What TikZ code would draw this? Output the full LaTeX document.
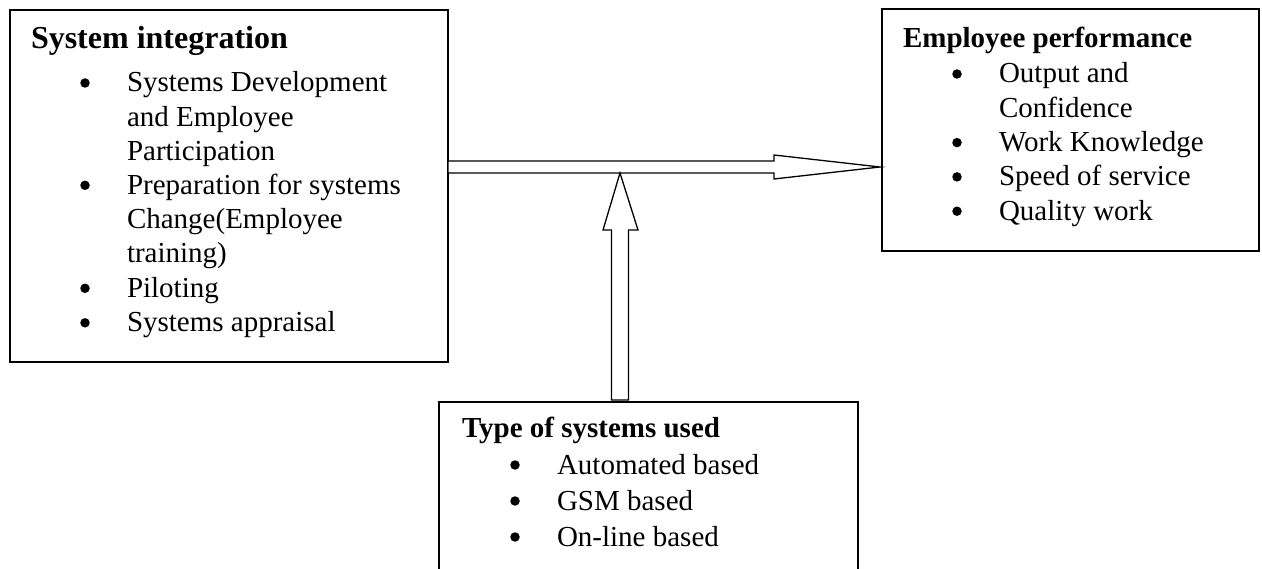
\documentclass[tikz,border=0pt]{standalone}
\usepackage{fontspec}
\setmainfont{Liberation Serif}
\usetikzlibrary{calc}
\begin{document}
\begin{tikzpicture}[x=1pt,y=-1pt,
  frame/.style={draw,line width=1.5pt,rectangle,anchor=north west,inner sep=0pt,outer sep=0pt},
  txt/.style={anchor=base west,inner sep=0pt,outer sep=0pt,font=\fontsize{29}{34}\selectfont},
  head/.style={txt,font=\fontsize{29}{34}\selectfont\bfseries},
  bigHead/.style={txt,font=\fontsize{32}{38}\selectfont\bfseries},
  dot/.style={circle,fill=black,inner sep=0pt,outer sep=0pt,minimum size=9.5pt,yshift=9pt},
  blockarrow/.style={draw,fill=white,line width=1.3pt,line join=miter}]
\useasboundingbox (0,0) rectangle (1262,569);
\clip (0,0) rectangle (1262,569);

% boxes
\node[frame,minimum width=438pt,minimum height=352pt] (sysint) at (10,10) {};
\node[frame,minimum width=377pt,minimum height=242pt] (perf) at (882,9) {};
\node[frame,minimum width=419pt,minimum height=220pt] (types) at (439,402) {};

% System integration
\node[bigHead] (siT) at (31,49) {System integration};
\node[dot] (siB1) at (85,92) {};
\node[txt] (siL1) at (127,92) {Systems Development};
\node[txt] (siL2) at (127,126.3) {and Employee};
\node[txt] (siL3) at (127,160.6) {Participation};
\node[dot] (siB2) at (85,194.3) {};
\node[txt] (siL4) at (127,194.3) {Preparation for systems};
\node[txt] (siL5) at (127,228.6) {Change(Employee};
\node[txt] (siL6) at (127,262.9) {training)};
\node[dot] (siB3) at (85,297.3) {};
\node[txt] (siL7) at (127,297.3) {Piloting};
\node[dot] (siB4) at (85,331.8) {};
\node[txt] (siL8) at (127,331.8) {Systems appraisal};

% Employee performance
\node[head] (epT) at (903,48) {Employee performance};
\node[dot] (epB1) at (957,83) {};
\node[txt] (epL1) at (999,83) {Output and};
\node[txt] (epL2) at (999,117.3) {Confidence};
\node[dot] (epB2) at (957,151.6) {};
\node[txt] (epL3) at (999,151.6) {Work Knowledge};
\node[dot] (epB3) at (957,185.9) {};
\node[txt] (epL4) at (999,185.9) {Speed of service};
\node[dot] (epB4) at (957,220.2) {};
\node[txt] (epL5) at (999,220.2) {Quality work};

% Type of systems used
\node[head] (tsT) at (462,438) {Type of systems used};
\node[dot] (tsB1) at (515,474) {};
\node[txt] (tsL1) at (557,474) {Automated based};
\node[dot] (tsB2) at (515,510) {};
\node[txt] (tsL2) at (557,510) {GSM based};
\node[dot] (tsB3) at (515,546) {};
\node[txt] (tsL3) at (557,546) {On-line based};

% horizontal block arrow: System integration -> Employee performance
\path (0,167) coordinate (hy);
\coordinate (hs) at (sysint.east |- hy);
\coordinate (ht) at ($(perf.west |- hy)+(-2,0)$);
\draw[blockarrow] ($(hs)+(0,-6)$) -- ($(ht)+(-106,-6)$) -- ($(ht)+(-106,-12)$)
  -- (ht) -- ($(ht)+(-106,12)$) -- ($(ht)+(-106,6)$) -- ($(hs)+(0,6)$) -- cycle;

% vertical block arrow: Type of systems used -> horizontal arrow
\path (620,0) coordinate (vx);
\coordinate (vt) at ($(vx |- hy)+(0,6)$);
\coordinate (vb) at ($(types.north -| vx)+(0,-2)$);
\draw[blockarrow] (vt) -- ($(vt)+(18,57)$) -- ($(vt)+(8.5,57)$) -- ($(vb)+(8.5,0)$)
  -- ($(vb)+(-8.5,0)$) -- ($(vt)+(-8.5,57)$) -- ($(vt)+(-17,57)$) -- cycle;
\end{tikzpicture}
\end{document}
